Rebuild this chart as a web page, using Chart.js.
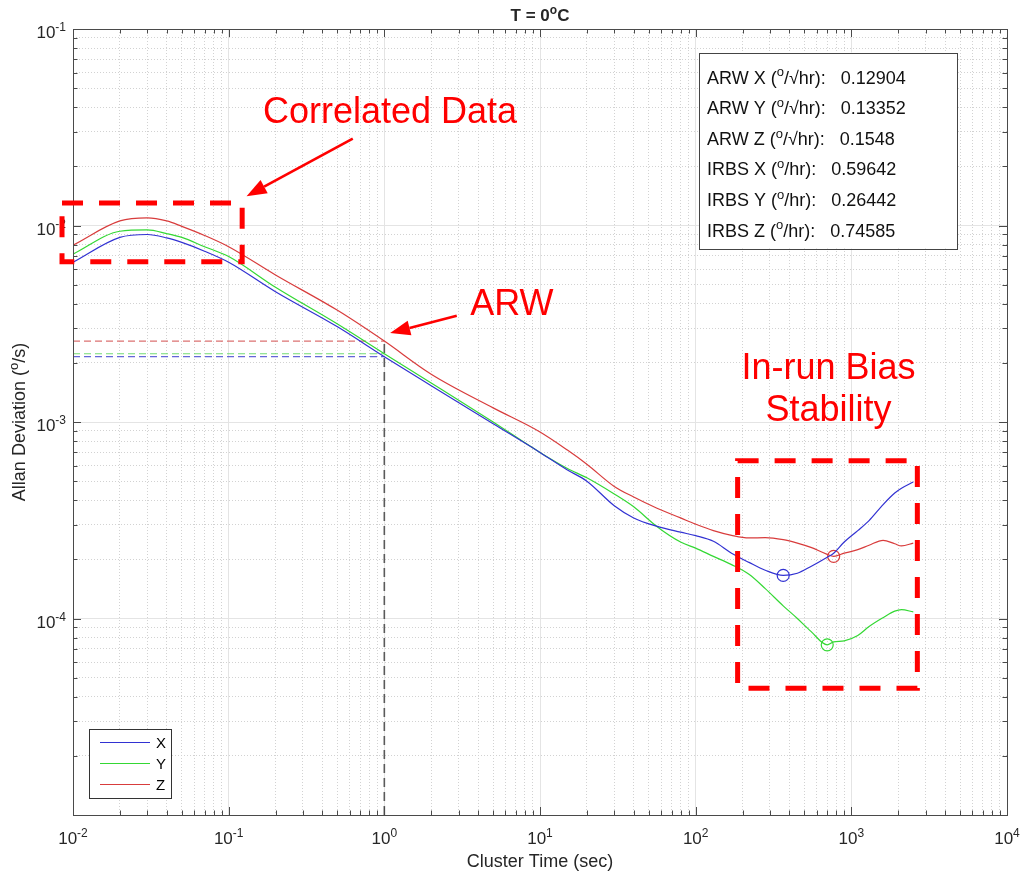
<!DOCTYPE html>
<html>
<head>
<meta charset="utf-8">
<script src="https://cdn.jsdelivr.net/npm/chart.js@4.4.1/dist/chart.umd.min.js"></script>
<style>
  body { margin: 0; background: #fff; }
</style>
</head>
<body>
<canvas id="allanChart" width="1023" height="876"></canvas>
<script>
// cluster time (sec)
const tau = [0.01, 0.02, 0.03, 0.04, 0.05, 0.07, 0.1, 0.2, 0.5, 1, 2, 5, 10, 15, 20, 30, 40, 56, 80, 100,
  130, 170, 220, 280, 365, 450, 550, 700, 770, 900, 1100, 1300, 1600, 1900, 2100, 2500];

// Allan deviation (deg/s)
const devX = [6.5e-3, 8.7e-3, 9.0e-3, 8.65e-3, 8.2e-3, 7.4e-3, 6.5e-3, 4.6e-3, 3.05e-3, 2.15e-3, 1.53e-3, 9.8e-4,
  7.0e-4, 5.7e-4, 5.0e-4, 3.75e-4, 3.25e-4, 2.95e-4, 2.75e-4, 2.64e-4, 2.47e-4, 2.15e-4, 1.93e-4, 1.76e-4,
  1.657e-4, 1.70e-4, 1.84e-4, 2.05e-4, 2.15e-4, 2.45e-4, 2.8e-4, 3.15e-4, 3.8e-4, 4.35e-4, 4.6e-4, 4.95e-4];
const devY = [7.15e-3, 9.35e-3, 9.5e-3, 9.1e-3, 8.7e-3, 7.8e-3, 6.95e-3, 4.85e-3, 3.15e-3, 2.225e-3, 1.58e-3, 1.0e-3,
  7.0e-4, 5.8e-4, 5.2e-4, 4.3e-4, 3.7e-4, 2.95e-4, 2.45e-4, 2.28e-4, 2.07e-4, 1.88e-4, 1.68e-4, 1.42e-4,
  1.16e-4, 1.0e-4, 8.6e-5, 7.345e-5, 7.6e-5, 7.7e-5, 8.2e-5, 9.1e-5, 1.01e-4, 1.09e-4, 1.11e-4, 1.08e-4];
const devZ = [7.94e-3, 1.055e-2, 1.094e-2, 1.055e-2, 9.9e-3, 8.9e-3, 7.8e-3, 5.6e-3, 3.7e-3, 2.58e-3, 1.75e-3, 1.18e-3,
  8.9e-4, 7.2e-4, 6.1e-4, 4.7e-4, 4.15e-4, 3.65e-4, 3.25e-4, 3.02e-4, 2.8e-4, 2.65e-4, 2.57e-4, 2.58e-4,
  2.52e-4, 2.42e-4, 2.3e-4, 2.12e-4, 2.072e-4, 2.15e-4, 2.24e-4, 2.36e-4, 2.5e-4, 2.4e-4, 2.34e-4, 2.42e-4];

const axisNames = ['X', 'Y', 'Z'];
const seriesColors = ['#3232d2', '#34d834', '#d83c3c'];
const arwColors = ['#6666d8', '#74dc74', '#dc7272'];

// noise parameters from the text box
const arwValues = [0.12904, 0.13352, 0.1548];   // deg/sqrt(hr)
const irbsValues = [0.59642, 0.26442, 0.74585]; // deg/hr
const irbsTau = [365, 700, 770];                // where the minimum sits

const xDecades = [-2, -1, 0, 1, 2, 3, 4];
const yDecades = [-1, -2, -3, -4];

const fam = "'Liberation Sans', Arial, Helvetica, sans-serif";
const textColor = '#262626';

function logTicks(lo, hi) {
  const out = [];
  for (let e = lo; e < hi; e++) {
    for (let m = 1; m < 10; m++) out.push({ value: m * Math.pow(10, e), major: m === 1 });
  }
  out.push({ value: Math.pow(10, hi), major: true });
  return out;
}

// text with superscript pieces: parts = [[text, isSup], ...]
function drawRich(ctx, parts, x, y, size, align, weight) {
  const supSize = Math.round(size * 0.7);
  const w = weight ? weight + ' ' : '';
  const widths = parts.map(p => {
    ctx.font = w + (p[1] ? supSize : size) + 'px ' + fam;
    return ctx.measureText(p[0]).width;
  });
  const total = widths.reduce((a, b) => a + b, 0);
  let cx = align === 'center' ? x - total / 2 : align === 'right' ? x - total : x;
  ctx.textAlign = 'left';
  ctx.textBaseline = 'alphabetic';
  parts.forEach((p, i) => {
    ctx.font = w + (p[1] ? supSize : size) + 'px ' + fam;
    ctx.fillText(p[0], cx, p[1] ? y - size * 0.4 : y);
    cx += widths[i];
  });
}

function arrow(ctx, x1, y1, x2, y2, headLen, headW) {
  const ang = Math.atan2(y2 - y1, x2 - x1);
  const bx = x2 - headLen * Math.cos(ang), by = y2 - headLen * Math.sin(ang);
  ctx.beginPath();
  ctx.moveTo(x1, y1);
  ctx.lineTo(bx, by);
  ctx.stroke();
  ctx.beginPath();
  ctx.moveTo(x2, y2);
  ctx.lineTo(bx + headW / 2 * Math.sin(ang), by - headW / 2 * Math.cos(ang));
  ctx.lineTo(bx - headW / 2 * Math.sin(ang), by + headW / 2 * Math.cos(ang));
  ctx.closePath();
  ctx.fill();
}

const curves = [devX, devY, devZ].map((vals, i) => ({
  label: axisNames[i],
  data: tau.map((t, k) => ({ x: t, y: vals[k] })),
  borderColor: seriesColors[i],
  borderWidth: 1.2,
  pointRadius: 0,
  cubicInterpolationMode: 'monotone',
  fill: false
}));

const markers = irbsValues.map((v, i) => ({
  label: axisNames[i] + ' IRBS',
  data: [{ x: irbsTau[i], y: v / 3600 }],
  showLine: false,
  pointRadius: 6,
  pointBackgroundColor: 'rgba(0,0,0,0)',
  pointBorderColor: seriesColors[i],
  pointBorderWidth: 1.2
}));

const arwLines = arwValues.map((v, i) => ({
  label: axisNames[i] + ' ARW',
  data: [{ x: tau[0], y: v / 60 }, { x: 1, y: v / 60 }],
  borderColor: arwColors[i],
  borderDash: [7, 4],
  borderWidth: 1.2,
  pointRadius: 0
}));

const tauOneLine = {
  label: 'tau = 1',
  data: [{ x: 1, y: 1e-5 }, { x: 1, y: Math.max(...arwValues) / 60 }],
  borderColor: '#5a5a5a',
  borderDash: [9, 5],
  borderWidth: 1.6,
  pointRadius: 0
};

const decorations = {
  id: 'decorations',
  afterDatasetsDraw(chart) {
    const { ctx, chartArea: a, scales: { x, y } } = chart;
    ctx.save();
    ctx.strokeStyle = '#4a4a4a';
    ctx.lineWidth = 1;
    ctx.beginPath();
    x.ticks.forEach(t => {
      const px = Math.round(x.getPixelForValue(t.value)) + 0.5;
      const len = t.major ? 8 : 4.5;
      ctx.moveTo(px, a.bottom); ctx.lineTo(px, a.bottom - len);
      ctx.moveTo(px, a.top); ctx.lineTo(px, a.top + len);
    });
    y.ticks.forEach(t => {
      const py = Math.round(y.getPixelForValue(t.value)) + 0.5;
      const len = t.major ? 8 : 4.5;
      ctx.moveTo(a.left, py); ctx.lineTo(a.left + len, py);
      ctx.moveTo(a.right, py); ctx.lineTo(a.right - len, py);
    });
    ctx.stroke();
    ctx.strokeRect(Math.round(a.left) + 0.5, Math.round(a.top) + 0.5,
      Math.round(a.right - a.left), Math.round(a.bottom - a.top));
    ctx.restore();
  },
  afterDraw(chart) {
    const { ctx, chartArea: a, scales: { x, y } } = chart;
    ctx.save();
    ctx.fillStyle = textColor;

    // tick labels
    xDecades.forEach(d => {
      drawRich(ctx, [['10', false], [String(d), true]], x.getPixelForValue(Math.pow(10, d)), a.bottom + 29, 17, 'center');
    });
    yDecades.forEach(d => {
      drawRich(ctx, [['10', false], [String(d), true]], a.left - 7, y.getPixelForValue(Math.pow(10, d)) + 9, 17, 'right');
    });

    // titles
    drawRich(ctx, [['T = 0', false], ['o', true], ['C', false]], (a.left + a.right) / 2, 21, 17, 'center', 'bold');
    drawRich(ctx, [['Cluster Time (sec)', false]], (a.left + a.right) / 2, 867, 18, 'center');
    ctx.save();
    ctx.translate(25, (a.top + a.bottom) / 2);
    ctx.rotate(-Math.PI / 2);
    drawRich(ctx, [['Allan Deviation (', false], ['o', true], ['/s)', false]], 0, 0, 18, 'center');
    ctx.restore();

    // legend, lower left
    const lg = { l: a.left + 16, t: a.bottom - 86, w: 82, h: 69 };
    ctx.fillStyle = '#fff';
    ctx.fillRect(lg.l, lg.t, lg.w, lg.h);
    ctx.strokeStyle = '#333';
    ctx.lineWidth = 1;
    ctx.strokeRect(lg.l + 0.5, lg.t + 0.5, lg.w, lg.h);
    axisNames.forEach((n, i) => {
      const ly = lg.t + 13.5 + i * 21;
      ctx.strokeStyle = seriesColors[i];
      ctx.lineWidth = 1.2;
      ctx.beginPath();
      ctx.moveTo(lg.l + 11, ly);
      ctx.lineTo(lg.l + 61, ly);
      ctx.stroke();
      ctx.fillStyle = '#000';
      drawRich(ctx, [[n, false]], lg.l + 67, ly + 5.5, 15, 'left');
    });

    // stats text box, upper right
    const bx = { l: a.left + 626, t: a.top + 23.5, w: 258, h: 196 };
    ctx.fillStyle = '#fff';
    ctx.fillRect(bx.l, bx.t, bx.w, bx.h);
    ctx.strokeStyle = '#444';
    ctx.lineWidth = 1;
    ctx.strokeRect(Math.round(bx.l) + 0.5, Math.round(bx.t) + 0.5, bx.w, bx.h);
    ctx.fillStyle = '#111';
    const statLines = [];
    arwValues.forEach((v, i) => statLines.push([['ARW ' + axisNames[i] + ' (', false], ['o', true], ['/\u221Ahr):   ' + v, false]]));
    irbsValues.forEach((v, i) => statLines.push([['IRBS ' + axisNames[i] + ' (', false], ['o', true], ['/hr):   ' + v, false]]));
    statLines.forEach((parts, i) => drawRich(ctx, parts, bx.l + 8, bx.t + 31 + i * 30.6, 18, 'left'));

    // red call-outs, anchored in data space
    const px = v => x.getPixelForValue(v);
    const py = v => y.getPixelForValue(v);
    ctx.strokeStyle = '#ff0000';
    ctx.fillStyle = '#ff0000';
    ctx.lineWidth = 5;
    ctx.setLineDash([21, 16]);
    ctx.strokeRect(px(0.0085), py(1.303e-2), px(0.1221) - px(0.0085), py(6.53e-3) - py(1.303e-2));
    ctx.strokeRect(px(186), py(6.35e-4), px(2655) - px(186), py(4.42e-5) - py(6.35e-4));
    ctx.setLineDash([]);
    ctx.lineWidth = 2.6;
    arrow(ctx, px(0.627), py(2.77e-2), px(0.1303), py(1.41e-2), 20, 15);
    arrow(ctx, px(2.92), py(3.47e-3), px(1.09), py(2.84e-3), 20, 15);
    drawRich(ctx, [['Correlated Data', false]], px(0.166), py(3.31e-2), 36, 'left');
    drawRich(ctx, [['ARW', false]], px(3.56), py(3.5e-3), 36, 'left');
    drawRich(ctx, [['In-run Bias', false]], px(713), py(1.65e-3), 36, 'center');
    drawRich(ctx, [['Stability', false]], px(713), py(1.01e-3), 36, 'center');
    ctx.restore();
  }
};

function gridOpts() {
  return {
    drawTicks: false,
    lineWidth: 1,
    color: c => (c.tick && c.tick.major ? '#e4e4e4' : '#d2d2d2')
  };
}
function borderOpts() {
  return {
    display: false,
    dash: c => (c.tick && !c.tick.major ? [1, 2] : [])
  };
}

new Chart(document.getElementById('allanChart'), {
  type: 'line',
  data: { datasets: [...curves, ...markers, ...arwLines, tauOneLine] },
  options: {
    responsive: false,
    animation: false,
    layout: { padding: { top: 29, right: 16, left: 0, bottom: 0 } },
    plugins: { legend: { display: false }, tooltip: { enabled: false }, title: { display: false } },
    scales: {
      x: {
        type: 'logarithmic',
        min: 0.01,
        max: 10000,
        afterBuildTicks: s => { s.ticks = logTicks(-2, 4); },
        afterFit: s => { s.height = 61; },
        ticks: { display: false },
        grid: gridOpts(),
        border: borderOpts()
      },
      y: {
        type: 'logarithmic',
        min: 1e-5,
        max: 0.1,
        afterBuildTicks: s => { s.ticks = logTicks(-5, -1); },
        afterFit: s => { s.width = 73; },
        ticks: { display: false },
        grid: gridOpts(),
        border: borderOpts()
      }
    }
  },
  plugins: [decorations]
});
</script>
</body>
</html>
